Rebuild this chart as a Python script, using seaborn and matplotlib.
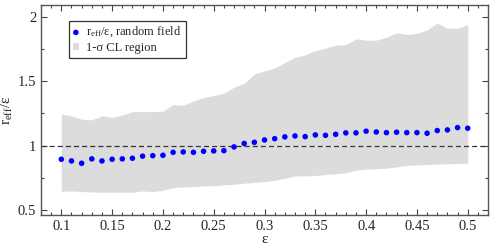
import matplotlib
matplotlib.use("Agg")
import matplotlib.pyplot as plt
from matplotlib.ticker import MultipleLocator
import numpy as np
import pandas as pd
import seaborn as sns

eps = [round(0.10 + 0.01 * i, 2) for i in range(41)]

ratio = [0.894, 0.881, 0.863, 0.897, 0.881, 0.894, 0.897, 0.902, 0.918, 0.922,
         0.925, 0.948, 0.951, 0.948, 0.956, 0.959, 0.961, 0.990, 1.017, 1.026,
         1.044, 1.054, 1.068, 1.075, 1.070, 1.083, 1.080, 1.088, 1.099, 1.099,
         1.112, 1.106, 1.101, 1.104, 1.101, 1.101, 1.096, 1.117, 1.122, 1.140,
         1.135]

band_hi = [1.246, 1.231, 1.205, 1.200, 1.231, 1.220, 1.238, 1.264, 1.264, 1.264,
           1.267, 1.319, 1.314, 1.345, 1.373, 1.389, 1.407, 1.454, 1.485, 1.557,
           1.580, 1.604, 1.645, 1.687, 1.705, 1.738, 1.757, 1.780, 1.785, 1.829,
           1.819, 1.819, 1.842, 1.876, 1.863, 1.871, 1.899, 1.951, 1.912, 1.910,
           1.940]

band_lo = [0.645, 0.648, 0.643, 0.640, 0.638, 0.638, 0.638, 0.638, 0.648, 0.643,
           0.653, 0.674, 0.679, 0.681, 0.687, 0.689, 0.695, 0.700, 0.708, 0.714,
           0.720, 0.731, 0.746, 0.765, 0.765, 0.768, 0.776, 0.781, 0.789, 0.809,
           0.817, 0.820, 0.825, 0.835, 0.846, 0.851, 0.853, 0.856, 0.859, 0.861,
           0.863]

df = pd.DataFrame({"eps": eps, "ratio": ratio, "lo": band_lo, "hi": band_hi})

sns.set_style("ticks")
plt.rcParams["font.family"] = ["Liberation Serif", "DejaVu Serif"]
plt.rcParams["mathtext.fontset"] = "custom"
plt.rcParams["mathtext.rm"] = "Liberation Serif"
plt.rcParams["mathtext.it"] = "Liberation Serif:italic"

fig = plt.figure(figsize=(4.91, 2.45), dpi=100)
ax = fig.add_axes([0.0835, 0.1224, 0.9105, 0.8576])

ax.fill_between(df["eps"], df["lo"], df["hi"], color="#dcdcdc", lw=0,
                label="1-σ CL region")
ax.axhline(1.0, color="#333333", ls=(0, (4, 2.5)), lw=0.9)
sns.scatterplot(data=df, x="eps", y="ratio", ax=ax, color="#0000ff", s=16,
                edgecolor="none", label=r"r$_{\rm eff}$/ε, random field", zorder=3)

ax.set_xlim(0.08, 0.52)
ax.set_ylim(0.461, 2.093)
ax.xaxis.set_major_locator(MultipleLocator(0.05))
ax.xaxis.set_minor_locator(MultipleLocator(0.01))
ax.yaxis.set_major_locator(MultipleLocator(0.5))
ax.yaxis.set_minor_locator(MultipleLocator(0.25))
ax.xaxis.set_major_formatter(plt.FuncFormatter(lambda v, p: f"{v:g}"))
ax.yaxis.set_major_formatter(plt.FuncFormatter(lambda v, p: f"{v:g}"))
ax.tick_params(which="both", direction="in", top=True, right=True,
               labelsize=10.5, color="#444444", width=0.8)
ax.tick_params(which="major", length=4)
ax.tick_params(which="minor", length=2)
for s in ax.spines.values():
    s.set_color("#555555")
    s.set_linewidth(1.0)

ax.set_xlabel("ε", fontsize=11, labelpad=0)
ax.set_ylabel(r"r$_{\rm eff}$/ε", fontsize=11, labelpad=2)

h, l = ax.get_legend_handles_labels()
order = [l.index(r"r$_{\rm eff}$/ε, random field"), l.index("1-σ CL region")]
leg = ax.legend([h[i] for i in order], [l[i] for i in order], loc="upper left",
                bbox_to_anchor=(0.057, 0.935), fontsize=9, frameon=True,
                fancybox=False, edgecolor="#333333", framealpha=1,
                handlelength=0.5, handleheight=0.5, handletextpad=0.6,
                borderpad=0.3, labelspacing=0.2, borderaxespad=0.2)
leg.get_frame().set_linewidth(0.9)

fig.savefig("out.png", dpi=100)
